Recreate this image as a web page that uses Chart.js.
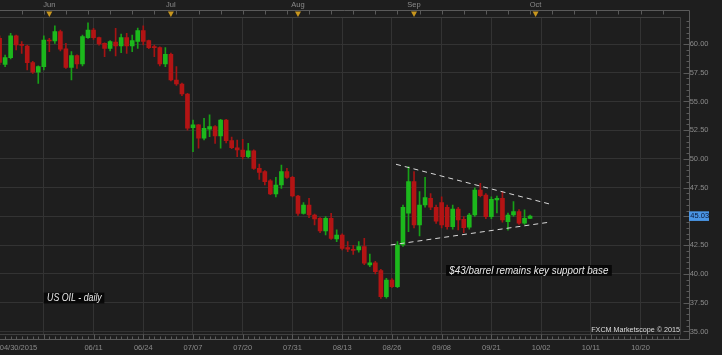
<!DOCTYPE html>
<html><head><meta charset="utf-8">
<script src="https://cdn.jsdelivr.net/npm/chart.js@4.4.0/dist/chart.umd.min.js"></script>
<style>html,body{margin:0;padding:0;background:#1e1e1e;overflow:hidden}#wrap{width:722px;height:355px}</style>
</head><body><div id="wrap"><canvas id="c" width="722" height="355"></canvas></div>
<script>
// ---- data (US OIL daily, FXCM) ----
const dates = ['05/19','05/20','05/21','05/22','05/25','05/26','05/27','05/28','05/29',
'06/01','06/02','06/03','06/04','06/05','06/08','06/09','06/10','06/11','06/12','06/15','06/16','06/17','06/18','06/19','06/22','06/23','06/24','06/25','06/26','06/29','06/30',
'07/01','07/02','07/03','07/06','07/07','07/08','07/09','07/10','07/13','07/14','07/15','07/16','07/17','07/20','07/21','07/22','07/23','07/24','07/27','07/28','07/29','07/30','07/31',
'08/03','08/04','08/05','08/06','08/07','08/10','08/11','08/12','08/13','08/14','08/17','08/18','08/19','08/20','08/21','08/24','08/25','08/26','08/27','08/28','08/31',
'09/01','09/02','09/03','09/04','09/07','09/08','09/09','09/10','09/11','09/14','09/15','09/16','09/17','09/18','09/21','09/22','09/23','09/24','09/25','09/28','09/29','09/30'];
const openP = [60.50,58.23,58.81,60.72,59.95,59.83,58.38,57.54,58.03,
60.35,60.26,61.07,59.57,57.97,58.99,58.26,60.55,61.22,60.55,60.06,59.62,60.17,59.83,60.55,59.83,60.23,61.16,60.29,59.77,59.68,58.26,
59.10,56.87,56.52,55.65,52.73,52.96,51.80,52.60,52.82,52.00,53.39,51.60,50.98,50.78,50.20,50.70,49.19,48.90,48.09,46.96,47.74,48.90,48.40,
46.78,45.27,46.00,45.13,44.84,43.74,44.84,43.04,43.39,42.30,42.15,42.09,42.38,40.78,40.98,40.29,38.03,39.48,38.90,42.52,45.28,
48.03,44.26,46.00,46.58,45.80,46.20,45.80,44.12,45.65,44.75,44.06,45.13,47.30,46.87,44.99,46.43,46.58,44.55,45.13,45.42,44.41,44.84];
const highP = [60.70,59.04,60.93,60.78,60.20,59.91,58.50,58.10,60.72,
60.49,61.57,61.20,60.06,59.33,59.05,60.78,61.85,61.36,60.60,60.10,60.30,61.36,60.87,60.93,60.78,61.39,61.57,60.35,59.91,59.75,59.68,
59.20,58.03,56.60,55.70,53.39,53.00,53.54,53.83,52.90,53.45,53.45,51.90,51.65,51.70,51.36,50.80,49.56,49.00,48.20,48.40,49.48,49.19,48.50,
46.85,46.20,46.58,45.20,44.90,44.99,45.27,43.83,43.50,42.81,42.50,42.81,43.10,41.74,41.10,40.40,39.62,39.60,42.81,46.00,49.33,
48.90,47.16,48.40,47.00,46.00,46.70,46.00,46.00,45.80,45.00,45.28,47.50,47.88,47.00,46.70,46.78,47.16,45.30,46.29,45.60,45.57,45.13];
const lowP = [58.20,58.03,58.70,59.48,59.19,57.74,57.45,56.58,57.74,
59.33,60.06,59.40,57.88,56.87,57.88,58.10,60.49,60.40,59.90,58.90,59.40,58.96,59.25,59.19,59.33,59.62,59.91,59.60,58.90,58.10,58.03,
56.80,56.40,55.50,52.50,50.64,50.93,51.65,51.94,51.36,50.93,51.40,50.90,50.20,50.00,50.10,49.10,48.23,47.74,46.90,46.70,47.45,48.30,46.70,
45.10,45.20,44.90,44.26,43.60,43.39,43.00,42.81,42.10,41.95,41.70,41.90,40.80,40.64,40.00,37.88,37.90,38.80,38.80,42.40,43.68,
44.00,43.30,45.80,45.60,44.40,44.00,43.90,43.90,43.83,43.60,43.90,45.00,46.70,44.80,44.80,45.30,44.50,43.80,45.00,44.30,44.30,44.80];
const closeP = [58.40,58.81,60.72,59.91,59.88,58.38,57.54,58.03,60.35,
60.26,61.07,59.54,57.97,58.99,58.26,60.64,61.22,60.55,60.00,59.62,60.20,59.83,60.55,59.83,60.29,61.16,60.23,59.68,59.68,58.26,59.10,
56.87,56.52,55.65,52.67,52.96,51.80,52.67,52.82,52.00,53.39,51.60,50.99,50.78,50.20,50.70,49.19,48.84,48.03,46.96,47.74,48.90,48.40,46.78,
45.27,46.00,45.13,44.78,43.74,44.84,43.10,43.39,42.23,42.15,42.05,42.38,40.93,40.98,40.20,38.03,39.48,38.90,42.52,45.80,48.03,
44.26,46.00,46.64,45.80,44.60,44.26,44.12,45.65,44.70,44.03,45.13,47.30,46.81,44.99,46.49,46.58,44.70,45.13,45.42,44.41,44.84,45.03];

// axis tick labels
const yTickValues = [35,37.5,40,42.5,45,47.5,50,52.5,55,57.5,60];
const xTickSlots  = [3.42,8,17,26,35,44,53,62,71,80,89,98,107,116];
const xTickLabels = ['04/30/2015','','06/11','06/24','07/07','07/20','07/31','08/13','08/26','09/08','09/21','10/02','10/11','10/20'];
const monthSlots  = [9,31,54,75,97];
const monthLabels = ['Jun','Jul','Aug','Sep','Oct'];

// drawn trend lines (triangle) and notes
const trendUpper = [{x:71.74,y:49.54},{x:99.74,y:46.06}];
const trendLower = [{x:70.78,y:42.52},{x:99.74,y:44.52}];
const notes = [
  {text:'US OIL - daily', x0:7.99, x1:18.96, y:37.91, w:54.7},
  {text:'$43/barrel remains key support base', x0:80.8, x1:110.8, y:40.31, w:159}
];

const UP='#1cb81c', DN='#b31414', UPW='#17a017', DNW='#a51313';
const isUp = closeP.map((c,i)=>c>=openP[i]);

const frame = {
  id:'frame',
  beforeDraw(chart){const c=chart.ctx;c.save();c.fillStyle='#1e1e1e';c.fillRect(0,0,chart.width,chart.height);c.restore();},
  afterDraw(chart){
    const c=chart.ctx, a=chart.chartArea, x=chart.scales.x, y=chart.scales.y, xt=chart.scales.xTop;
    c.save();
    // plot border
    c.strokeStyle='#404040'; c.lineWidth=1;
    c.beginPath();
    c.moveTo(0, Math.round(a.top)+0.5); c.lineTo(Math.round(a.right)-0.5, Math.round(a.top)+0.5);
    c.lineTo(Math.round(a.right)-0.5, Math.round(a.bottom)+0.5); c.lineTo(0, Math.round(a.bottom)+0.5);
    c.stroke();
    // outer frame
    const fx=Math.round(a.right+8.3)+0.5, ft=10.5, fb=Math.round(a.bottom+5)+0.5;
    c.strokeStyle='#5a5a5a';
    c.beginPath(); c.moveTo(0,ft); c.lineTo(fx,ft); c.lineTo(fx,fb); c.lineTo(0,fb); c.stroke();
    c.beginPath();
    for(let i=Math.ceil(x.min);i<=x.max;i++){
      const px=Math.round(x.getPixelForValue(i))+0.5;
      const major=((i-8)%9===0);
      c.moveTo(px,fb); c.lineTo(px,fb-(major?5:3));
      if((i-8)%4===0){ c.moveTo(px,ft); c.lineTo(px,ft+4); }
    }
    for(let v=35;v<=62;v+=0.5){
      const py=Math.round(y.getPixelForValue(v))+0.5;
      const major=(v%2.5===0);
      c.moveTo(fx,py); c.lineTo(fx-(major?6:3),py);
    }
    c.stroke();
    // month markers
    c.fillStyle='#c8961e';
    monthSlots.forEach(s=>{
      const px=xt.getPixelForValue(s);
      c.beginPath(); c.moveTo(px-3,ft+1); c.lineTo(px+3,ft+1); c.lineTo(px,ft+6.5); c.closePath(); c.fill();
    });
    // notes
    notes.forEach(n=>{
      const l=x.getPixelForValue(n.x0), r=x.getPixelForValue(n.x1), m=y.getPixelForValue(n.y);
      c.fillStyle='rgba(6,6,6,0.92)';
      c.fillRect(l, m-5.4, r-l, 10.8);
      c.font='italic 10px "Liberation Sans"';
      const w=c.measureText(n.text).width;
      c.save(); c.translate(l+3.3, m+0.5); c.scale(n.w/w,1);
      c.fillStyle='#e8e8e8'; c.textBaseline='middle'; c.textAlign='left';
      c.fillText(n.text,0,0); c.restore();
    });
    // copyright
    c.font='7.2px "Liberation Sans"'; c.fillStyle='#dcdcdc'; c.textAlign='right'; c.textBaseline='middle';
    c.fillText('FXCM Marketscope \u00a9 2015', a.right-0.7, 330);
    // last price tag
    const last=closeP[closeP.length-1], ry=y.getPixelForValue(last);
    c.fillStyle='#4a96e6'; c.fillRect(fx-0.5, ry-4.8, 20, 9.6);
    c.fillStyle='#0a1838'; c.font='7.5px "Liberation Sans"'; c.textAlign='left';
    c.fillText(last.toFixed(2), fx+0.8, ry+0.3);
    c.restore();
  }
};

const xMin=0.074, xMax=123.26, yMin=34.78, yMax=62.322;
const tickFont={family:'Liberation Sans', size:7.5};
const noPad = s=>{s.paddingLeft=0; s.paddingRight=0; s.paddingTop=0; s.paddingBottom=0;};

new Chart(document.getElementById('c'),{
  type:'bar',
  data:{datasets:[
    {type:'line', data:trendUpper, xAxisID:'x', yAxisID:'y', borderColor:'#d9d9d9', borderWidth:1, borderDash:[5,4], pointRadius:0, order:0},
    {type:'line', data:trendLower, xAxisID:'x', yAxisID:'y', borderColor:'#d9d9d9', borderWidth:1, borderDash:[5,4], pointRadius:0, order:0},
    {data:dates.map((d,i)=>({x:i, y:[Math.min(openP[i],closeP[i]), Math.max(openP[i],closeP[i])]})),
     xAxisID:'x', yAxisID:'y', backgroundColor:isUp.map(u=>u?UP:DN), barThickness:4, grouped:false, minBarLength:1, borderWidth:0, order:1},
    {data:dates.map((d,i)=>({x:i, y:[lowP[i], highP[i]]})),
     xAxisID:'x', yAxisID:'y', backgroundColor:isUp.map(u=>u?UPW:DNW), barThickness:1, grouped:false, borderWidth:0, order:2}
  ]},
  options:{
    responsive:false, animation:false, devicePixelRatio:1,
    layout:{padding:0},
    plugins:{legend:{display:false}, tooltip:{enabled:false}},
    scales:{
      x:{type:'linear', position:'bottom', min:xMin, max:xMax, offset:false,
         afterBuildTicks:s=>{s.ticks=xTickSlots.map(v=>({value:v}));},
         afterFit:s=>{s.height=21; noPad(s);},
         grid:{offset:false, drawTicks:false, color:ctx=>ctx.index===0?'rgba(0,0,0,0)':'#333333'},
         border:{display:false},
         ticks:{autoSkip:false, maxRotation:0, padding:9.5, color:'#8a8a8a', font:tickFont, callback:(v,i)=>xTickLabels[i]}},
      xTop:{type:'linear', position:'top', min:xMin, max:xMax, offset:false,
         afterBuildTicks:s=>{s.ticks=monthSlots.map(v=>({value:v}));},
         afterFit:s=>{s.height=17.3; noPad(s);},
         grid:{display:false, drawTicks:false}, border:{display:false},
         ticks:{autoSkip:false, maxRotation:0, padding:7.8, color:'#8a8a8a', font:tickFont, callback:(v,i)=>monthLabels[i]}},
      y:{type:'linear', position:'right', min:yMin, max:yMax, beginAtZero:false,
         afterBuildTicks:s=>{s.ticks=yTickValues.map(v=>({value:v}));},
         afterFit:s=>{s.width=41.3; noPad(s);},
         grid:{drawTicks:false, color:'#333333'}, border:{display:false},
         ticks:{padding:9, color:'#8a8a8a', font:tickFont, callback:v=>Number(v).toFixed(2)}}
    }
  },
  plugins:[frame]
});
</script></body></html>
